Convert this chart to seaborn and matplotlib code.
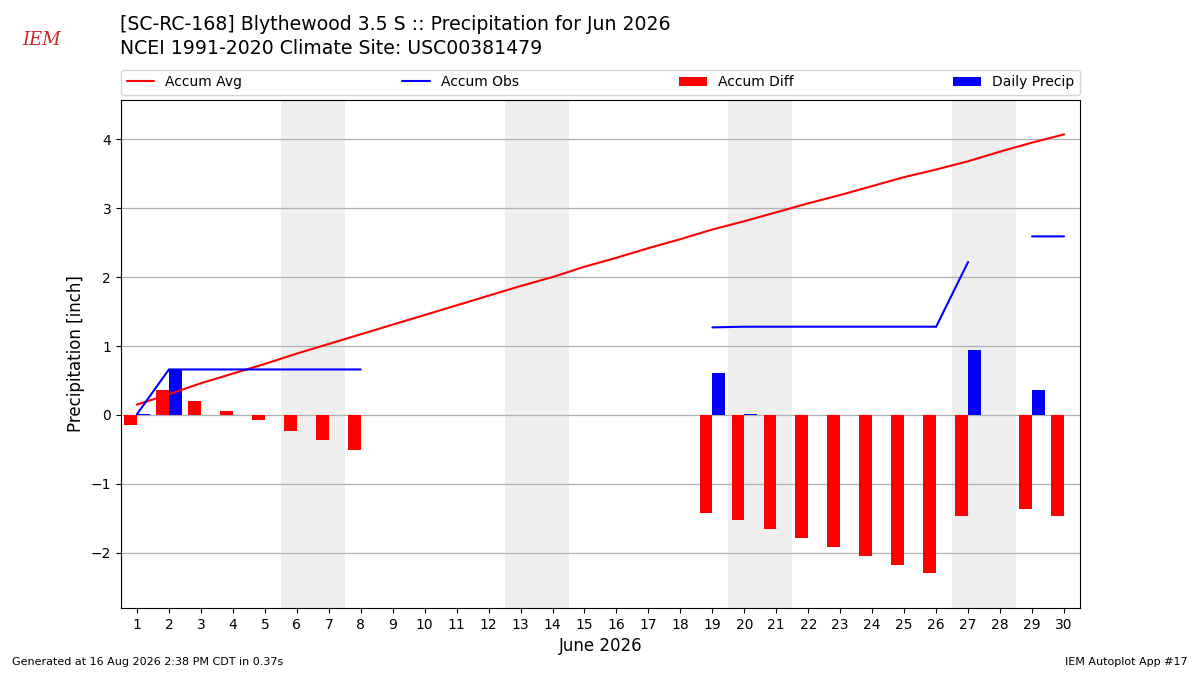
import numpy as np
import pandas as pd
import seaborn as sns
import matplotlib.pyplot as plt
from matplotlib.patches import Patch
from matplotlib.lines import Line2D

nan = np.nan

# Données (juin 2026)
days = list(range(1, 31))
accum_avg = [0.15, 0.30, 0.46, 0.60, 0.74, 0.89, 1.03, 1.17, 1.31, 1.45,
             1.59, 1.73, 1.87, 2.00, 2.15, 2.28, 2.42, 2.55, 2.69, 2.81,
             2.94, 3.07, 3.19, 3.32, 3.45, 3.56, 3.68, 3.82, 3.95, 4.07]
accum_obs = [0.01, 0.66, 0.66, 0.66, 0.66, 0.66, 0.66, 0.66, nan, nan,
             nan, nan, nan, nan, nan, nan, nan, nan, 1.27, 1.28,
             1.28, 1.28, 1.28, 1.28, 1.28, 1.28, 2.22, nan, 2.59, 2.59]
accum_diff = [-0.14, 0.36, 0.20, 0.06, -0.08, -0.23, -0.37, -0.51, nan, nan,
              nan, nan, nan, nan, nan, nan, nan, nan, -1.42, -1.53,
              -1.66, -1.79, -1.91, -2.04, -2.17, -2.29, -1.46, nan, -1.36, -1.47]
daily_precip = [0.01, 0.65, 0, 0, 0, 0, 0, 0, nan, nan,
                nan, nan, nan, nan, nan, nan, nan, nan, 0.61, 0.01,
                0, 0, 0, 0, 0, 0, 0.94, nan, 0.36, 0]
weekends = [6, 13, 20, 27]

df = pd.DataFrame({"day": days, "avg": accum_avg, "obs": accum_obs,
                   "diff": accum_diff, "precip": daily_precip})

sns.set_style("white")
plt.rcParams['font.family'] = ['DejaVu Sans']
for k in ["text.color", "axes.labelcolor", "xtick.color", "ytick.color"]:
    plt.rcParams[k] = "black"

fig = plt.figure(figsize=(12, 6.75), dpi=100)
ax = fig.add_axes([0.1008, 0.0993, 0.7992, 0.7527])

# week-ends en gris
for d in weekends:
    ax.axvspan(d - 0.5, d + 1.5, color="#eeeeee", lw=0, zorder=0)

ax.bar(df["day"], df["diff"], width=-0.4, align="edge", color="red",
       edgecolor="none", linewidth=0, zorder=2)
ax.bar(df["day"], df["precip"], width=0.4, align="edge", color="blue",
       edgecolor="none", linewidth=0, zorder=2)
sns.lineplot(data=df, x="day", y="avg", color="red", lw=1.5, ax=ax, zorder=3)
ax.plot(df["day"], df["obs"], color="blue", lw=1.5, zorder=3)

ax.set_xlim(0.5, 30.5)
ax.set_ylim(-2.8, 4.57)
ax.set_xticks(days)
ax.set_xticklabels([str(d) for d in days], fontsize=10)
ax.set_yticks([-2, -1, 0, 1, 2, 3, 4])
ax.set_yticklabels(["\u22122", "\u22121", "0", "1", "2", "3", "4"], fontsize=10)
ax.yaxis.grid(True, color="#b0b0b0", lw=0.9)
ax.set_axisbelow(True)
ax.tick_params(axis="both", length=3.5, width=0.8, color="black", left=True, bottom=True)
for s in ax.spines.values():
    s.set_color("black")
    s.set_linewidth(0.8)
ax.set_xlabel("June 2026", fontsize=12)
ax.set_ylabel("Precipitation [inch]", fontsize=12)

handles = [Line2D([], [], color="red", lw=1.5), Line2D([], [], color="blue", lw=1.5),
           Patch(facecolor="red", edgecolor="none"), Patch(facecolor="blue", edgecolor="none")]
labels = ["Accum Avg", "Accum Obs", "Accum Diff", "Daily Precip"]
ax.legend(handles, labels, ncol=4, mode="expand", loc="lower left",
          bbox_to_anchor=(0, 1.01, 1, 0.05), fontsize=10, borderaxespad=0)

fig.text(0.1, 0.963, "[SC-RC-168] Blythewood 3.5 S :: Precipitation for Jun 2026",
         fontsize=13.6, va="center")
fig.text(0.1, 0.928, "NCEI 1991-2020 Climate Site: USC00381479", fontsize=13.6, va="center")
fig.text(0.035, 0.934, "IEM", fontsize=13, color="#cc2222", style="italic",
         family="DejaVu Serif", ha="center")
fig.text(0.01, 0.015, "Generated at 16 Aug 2026 2:38 PM CDT in 0.37s", fontsize=8)
fig.text(0.99, 0.015, "IEM Autoplot App #17", fontsize=8, ha="right")

fig.savefig("out.png", dpi=100)
